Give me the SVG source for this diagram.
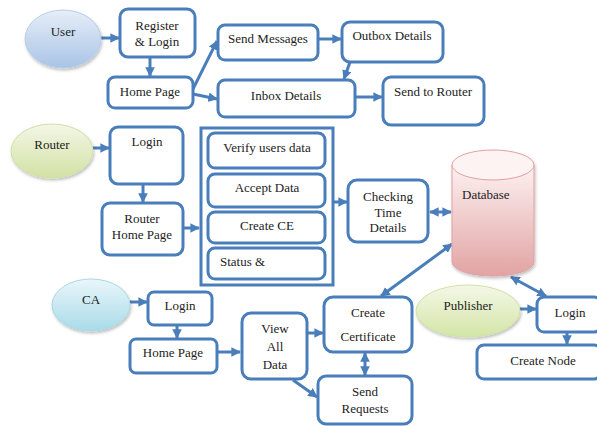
<svg xmlns="http://www.w3.org/2000/svg" width="597" height="426" viewBox="0 0 597 426" font-family="'Liberation Serif', 'DejaVu Serif', serif">
<style>
.box{fill:#fff;stroke:#4a7ebb;stroke-width:3}
.cn{fill:none;stroke:#4a7ebb;stroke-width:3}
.sh{filter:url(#shadow)}
text{font-family:'Liberation Serif','DejaVu Serif',serif;font-size:13px;fill:#222;text-anchor:middle}
</style>
<defs>
<filter id="shadow" x="-20%" y="-20%" width="140%" height="150%"><feDropShadow dx="1" dy="2" stdDeviation="1.5" flood-color="#000" flood-opacity="0.25"/></filter>
<marker id="ah" viewBox="0 0 10 10" refX="9" refY="5" markerWidth="3.2" markerHeight="3.2" orient="auto-start-reverse"><path d="M0,0 L10,5 L0,10 z" fill="#4a7ebb"/></marker>
<linearGradient id="gU" x1="0" y1="0" x2="0" y2="1"><stop offset="0" stop-color="#e6eef8"/><stop offset="1" stop-color="#a9c4e6"/></linearGradient>
<linearGradient id="gR" x1="0" y1="0" x2="0" y2="1"><stop offset="0" stop-color="#f3f6e6"/><stop offset="1" stop-color="#d2e2a4"/></linearGradient>
<linearGradient id="gC" x1="0" y1="0" x2="0" y2="1"><stop offset="0" stop-color="#eaf6fa"/><stop offset="1" stop-color="#a8dbe8"/></linearGradient>
<linearGradient id="gP" x1="0" y1="0" x2="0" y2="1"><stop offset="0" stop-color="#f4f8e8"/><stop offset="1" stop-color="#d3e5a6"/></linearGradient>
<linearGradient id="gD" x1="0" y1="0" x2="0" y2="1"><stop offset="0" stop-color="#fdf1f1"/><stop offset="1" stop-color="#e2a3a3"/></linearGradient>
</defs>

<g id="connectors">
<line class="cn" x1="100" y1="38" x2="119" y2="38" marker-end="url(#ah)"/>
<line class="cn" x1="150" y1="57" x2="150" y2="76" marker-end="url(#ah)"/>
<line class="cn" x1="193" y1="89" x2="217" y2="41" marker-end="url(#ah)"/>
<line class="cn" x1="193" y1="94" x2="217" y2="99" marker-end="url(#ah)"/>
<line class="cn" x1="318" y1="39" x2="341" y2="39" marker-end="url(#ah)"/>
<line class="cn" x1="350" y1="62" x2="344" y2="79" marker-end="url(#ah)"/>
<line class="cn" x1="355" y1="97" x2="382" y2="97" marker-end="url(#ah)"/>
<line class="cn" x1="93" y1="148" x2="109" y2="148" marker-end="url(#ah)"/>
<line class="cn" x1="143" y1="184" x2="143" y2="202" marker-end="url(#ah)"/>
<line class="cn" x1="183" y1="228" x2="199" y2="228" marker-end="url(#ah)"/>
<line class="cn" x1="334" y1="202" x2="347" y2="202" marker-end="url(#ah)"/>
<line class="cn" x1="430" y1="212" x2="451" y2="212" marker-start="url(#ah)" marker-end="url(#ah)"/>
<line class="cn" x1="452" y1="244" x2="381" y2="296" marker-start="url(#ah)" marker-end="url(#ah)"/>
<line class="cn" x1="511" y1="277" x2="546" y2="296" marker-start="url(#ah)" marker-end="url(#ah)"/>
<line class="cn" x1="130" y1="302" x2="147" y2="302" marker-end="url(#ah)"/>
<line class="cn" x1="177" y1="325" x2="177" y2="338" marker-end="url(#ah)"/>
<line class="cn" x1="217" y1="352" x2="240" y2="352" marker-end="url(#ah)"/>
<line class="cn" x1="307" y1="333" x2="323" y2="333" marker-end="url(#ah)"/>
<line class="cn" x1="293" y1="380" x2="317" y2="397" marker-end="url(#ah)"/>
<line class="cn" x1="365" y1="353" x2="365" y2="375" marker-start="url(#ah)" marker-end="url(#ah)"/>
<line class="cn" x1="520" y1="309" x2="536" y2="309" marker-end="url(#ah)"/>
<line class="cn" x1="567" y1="332" x2="567" y2="344" marker-end="url(#ah)"/>
</g>

<g id="user"><ellipse class="sh" cx="63" cy="39" rx="38" ry="29" fill="url(#gU)" stroke="#b8cde6" stroke-width="1"/><text x="63" y="36">User</text></g>
<g id="register"><rect class="box" x="120" y="9" width="75" height="48" rx="8"/><text x="157" y="30">Register</text><text x="157" y="46">&amp; Login</text></g>
<g id="userHome"><rect class="box" x="108" y="77" width="85" height="31" rx="7"/><text x="150" y="96">Home Page</text></g>
<g id="sendMessages"><rect class="box" x="218" y="25" width="100" height="35" rx="7"/><text x="268" y="43">Send Messages</text></g>
<g id="outbox"><rect class="box" x="342" y="22" width="101" height="40" rx="8"/><text x="392" y="40">Outbox Details</text></g>
<g id="inbox"><rect class="box" x="218" y="80" width="137" height="37" rx="7"/><text x="286" y="100">Inbox Details</text></g>
<g id="sendRouter"><rect class="box" x="383" y="77" width="101" height="48" rx="8"/><text x="433" y="96">Send to Router</text></g>

<g id="router"><ellipse class="sh" cx="52" cy="151" rx="41" ry="27" fill="url(#gR)" stroke="#cfe0a8" stroke-width="1"/><text x="52" y="149">Router</text></g>
<g id="routerLogin"><rect class="box" x="110" y="127" width="73" height="57" rx="8"/><text x="147" y="146">Login</text></g>
<g id="routerHome"><rect class="box" x="102" y="203" width="81" height="52" rx="8"/><text x="142" y="223">Router</text><text x="142" y="239">Home Page</text></g>
<g id="routerTasks"><rect x="201" y="128" width="132" height="157" fill="#fff" stroke="#4a7ebb" stroke-width="3"/>
<rect class="box" x="208" y="133" width="117" height="35" rx="7"/><text x="267" y="152">Verify users data</text>
<rect class="box" x="208" y="174" width="117" height="33" rx="7"/><text x="267" y="192">Accept Data</text>
<rect class="box" x="208" y="212" width="117" height="31" rx="7"/><text x="267" y="230">Create CE</text>
<rect class="box" x="208" y="248" width="117" height="31" rx="7"/><text x="220" y="266" style="text-anchor:start">Status &amp;</text></g>
<g id="checking"><rect class="box" x="348" y="180" width="80" height="62" rx="9"/><text x="388" y="201">Checking</text><text x="388" y="217">Time</text><text x="388" y="232">Details</text></g>
<g id="database"><g class="sh"><path d="M452,165 L452,262 A41,14 0 0 0 534,262 L534,165" fill="url(#gD)" stroke="#e3a0a0" stroke-width="1"/><ellipse cx="493" cy="165" rx="41" ry="15" fill="#fdf3f3" stroke="#e3a0a0" stroke-width="1"/></g><text x="462" y="199" style="text-anchor:start">Database</text></g>

<g id="ca"><ellipse class="sh" cx="91" cy="305" rx="39" ry="26" fill="url(#gC)" stroke="#a8d8e6" stroke-width="1"/><text x="91" y="304">CA</text></g>
<g id="caLogin"><rect class="box" x="148" y="292" width="64" height="33" rx="6"/><text x="180" y="310">Login</text></g>
<g id="caHome"><rect class="box" x="130" y="339" width="87" height="34" rx="6"/><text x="173" y="357">Home Page</text></g>
<g id="viewAll"><rect class="box" x="242" y="313" width="65" height="66" rx="9"/><text x="275" y="333">View</text><text x="275" y="351">All</text><text x="275" y="369">Data</text></g>
<g id="createCert"><rect class="box" x="324" y="297" width="88" height="55" rx="9"/><text x="368" y="317">Create</text><text x="368" y="341">Certificate</text></g>
<g id="sendRequests"><rect class="box" x="318" y="376" width="94" height="48" rx="8"/><text x="365" y="396">Send</text><text x="365" y="413">Requests</text></g>
<g id="publisher"><ellipse class="sh" cx="468" cy="311" rx="52" ry="26" fill="url(#gP)" stroke="#d0e2a6" stroke-width="1"/><text x="468" y="310">Publisher</text></g>
<g id="pubLogin"><rect class="box" x="537" y="297" width="64" height="35" rx="7"/><text x="570" y="317">Login</text></g>
<g id="createNode"><rect class="box" x="477" y="345" width="124" height="34" rx="7"/><text x="543" y="365">Create Node</text></g>
</svg>
